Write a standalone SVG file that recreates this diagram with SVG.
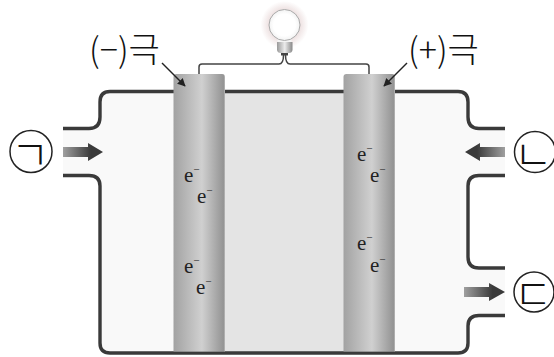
<svg xmlns="http://www.w3.org/2000/svg" width="554" height="357" viewBox="0 0 554 357">
<style>
.wall{fill:none;stroke:#3a3a3a;stroke-width:3.4}
.wire{fill:none;stroke:#444;stroke-width:1.5}
.lab{font-family:"Noto Sans CJK KR","Noto Sans",sans-serif;font-size:34px;font-weight:300;fill:#111}
.jamo{font-family:"Noto Sans CJK KR",sans-serif;font-size:42px;font-weight:300;fill:#111;text-anchor:middle}
.e{font-family:"Liberation Serif",serif;font-size:21px;fill:#222}
.ring{fill:#fff;stroke:#222;stroke-width:1.5}
.lead{stroke:#222;stroke-width:1.5;marker-end:url(#ah)}
</style>
<defs>
<linearGradient id="rod" x1="0" x2="1" y1="0" y2="0">
<stop offset="0" stop-color="#a2a2a2"/><stop offset="0.55" stop-color="#d0d0d0"/><stop offset="0.97" stop-color="#949494"/><stop offset="1" stop-color="#bbb"/>
</linearGradient>
<linearGradient id="fr" x1="0" x2="1" y1="0" y2="0"><stop offset="0" stop-color="#a0a0a0"/><stop offset="0.7" stop-color="#3a3a3a"/></linearGradient>
<linearGradient id="fl" x1="1" x2="0" y1="0" y2="0"><stop offset="0" stop-color="#a0a0a0"/><stop offset="0.7" stop-color="#3a3a3a"/></linearGradient>
<radialGradient id="halo"><stop offset="0.65" stop-color="#eee2e2"/><stop offset="1" stop-color="#fff"/></radialGradient>
<radialGradient id="glass"><stop offset="0.7" stop-color="#fff"/><stop offset="1" stop-color="#f2f2f2"/></radialGradient>
<linearGradient id="base" x1="0" x2="1" y1="0" y2="0"><stop offset="0" stop-color="#999"/><stop offset="0.5" stop-color="#ececec"/><stop offset="1" stop-color="#888"/></linearGradient>
<marker id="ah" viewBox="0 0 10 10" refX="9" refY="5" markerWidth="8" markerHeight="8" markerUnits="userSpaceOnUse" orient="auto"><path d="M0 0L10 5L0 10Z" fill="#222"/></marker>
</defs>
<g id="cell">
<path d="M63 128.500H89Q100 128.500 100 117V102Q100 91.500 110 91.500H458Q468 91.500 468 102V117Q468 128.500 479 128.500H505V175.500H479Q468 175.500 468 186V257Q468 268 479 268H505V315.500H479Q468 315.500 468 326V343Q468 353 458 353H110Q100 353 100 343V186Q100 175.500 89 175.500H63Z" fill="#f9f9f9"/>
<rect x="225" y="91" width="119" height="261" fill="#e4e4e4"/>
<path class="wall" d="M63 128.500H89Q100 128.500 100 117V102Q100 91.500 110 91.500H458Q468 91.500 468 102V117Q468 128.500 479 128.500H505"/>
<path class="wall" d="M63 175.500H89Q100 175.500 100 186V343Q100 353 110 353H458Q468 353 468 343V326Q468 315.500 479 315.500H505"/>
<path class="wall" d="M505 175.500H479Q468 175.500 468 186V257Q468 268 479 268H505"/>
</g>
<g id="electrode-left"><path d="M173.500 351.500V77Q173.500 74 176.500 74H222Q225 74 225 77V351.500Z" fill="url(#rod)"/></g>
<g id="electrode-right"><path d="M343.500 351.500V77Q343.500 74 346.500 74H392Q395 74 395 77V351.500Z" fill="url(#rod)"/></g>
<g id="bulb">
<circle cx="284.500" cy="25" r="24" fill="url(#halo)"/>
<path d="M277.500 36.500H291.500V44H277.500Z" fill="#f4f4f4"/>
<circle cx="284.500" cy="25" r="15.500" fill="url(#glass)" stroke="#aaa" stroke-width="1"/>
<path d="M277 42H292.500V50Q292 53 289 53H280.500Q277.500 53 277 50Z" fill="url(#base)"/>
<path d="M281 53H288V55.500H281Z" fill="#444"/>
</g>
<g id="connectors">
<path class="wire" d="M199 74V67Q199 64 202 64H279Q283.500 64 283.500 55"/>
<path class="wire" d="M369 74V67Q369 64 366 64H290Q285.500 64 285.500 55"/>
<line class="lead" x1="162" y1="63" x2="185" y2="86"/>
<line class="lead" x1="407" y1="63" x2="384" y2="86"/>
<path d="M63 147H88V143L103 152L88 161V157H63Z" fill="url(#fr)"/>
<path d="M505 147H480V143L465 152L480 161V157H505Z" fill="url(#fl)"/>
<path d="M464 287H489V283L505 292L489 301V297H464Z" fill="url(#fr)"/>
</g>
<g id="label-minus"><text class="lab" x="89" y="62">(−)극</text></g>
<g id="label-plus"><text class="lab" x="408" y="62">(+)극</text></g>
<g id="node-a"><circle class="ring" cx="31" cy="151.500" r="21"/><text class="jamo" x="30" y="170">ㄱ</text></g>
<g id="node-b"><circle class="ring" cx="535" cy="152" r="20.500"/><text class="jamo" x="533" y="170">ㄴ</text></g>
<g id="node-c"><circle class="ring" cx="534" cy="292" r="20"/><text class="jamo" x="533" y="310">ㄷ</text></g>
<g id="electrons">
<text class="e" x="184" y="181.500">e<tspan font-size="11" dy="-9">−</tspan></text>
<text class="e" x="197" y="203">e<tspan font-size="11" dy="-9">−</tspan></text>
<text class="e" x="184" y="272.500">e<tspan font-size="11" dy="-9">−</tspan></text>
<text class="e" x="196" y="294">e<tspan font-size="11" dy="-9">−</tspan></text>
<text class="e" x="357" y="160.500">e<tspan font-size="11" dy="-9">−</tspan></text>
<text class="e" x="370" y="181.500">e<tspan font-size="11" dy="-9">−</tspan></text>
<text class="e" x="357" y="250">e<tspan font-size="11" dy="-9">−</tspan></text>
<text class="e" x="370" y="272">e<tspan font-size="11" dy="-9">−</tspan></text>
</g>
</svg>
